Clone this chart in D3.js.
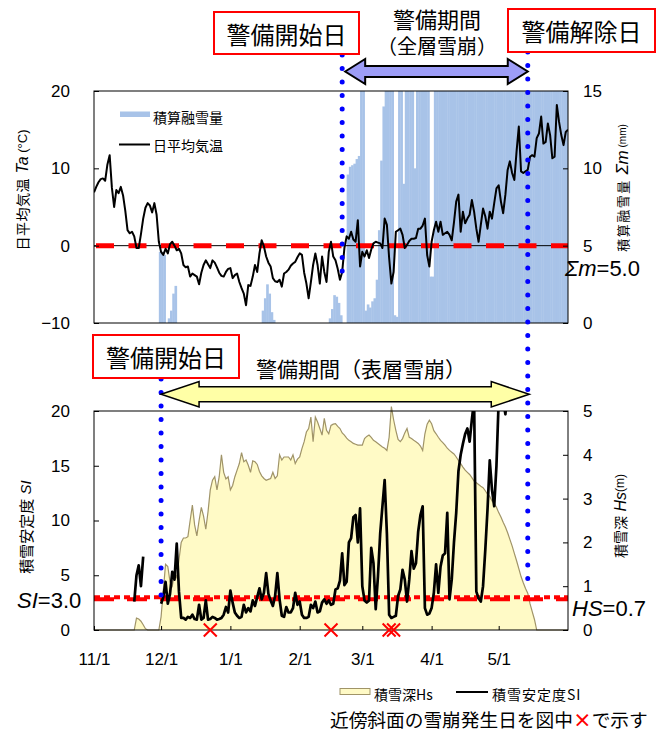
<!DOCTYPE html>
<html><head><meta charset="utf-8">
<script src="https://cdn.jsdelivr.net/npm/d3@7"></script>
<style>
body{margin:0;background:#fff;}
svg text{font-family:"Liberation Sans",Arial,sans-serif;fill:#000;}
svg .jp{font-family:"Noto Sans CJK JP","Noto Sans",sans-serif;}
</style></head><body>
<svg id="chart" width="659" height="731"></svg>
<script>
// ---- season & labels ----
const seasonStart = "2010-11-01";
const seasonEnd = "2011-06-01";
const monthStarts = ["2010-11-01","2010-12-01","2011-01-01","2011-02-01","2011-03-01","2011-04-01","2011-05-01"];
const monthLabels = ["11/1","12/1","1/1","2/1","3/1","4/1","5/1"];

// daily mean air temperature Ta (°C), one value per day from 11/1
const airTemp = [6.9,7.6,8.2,8.6,8.7,8.4,10.5,11.7,7.5,5.0,
 7.2,6.8,7.6,6.5,4.5,2.0,1.6,1.8,1.2,-0.3,
 -0.3,1.5,3.5,4.9,5.5,5.2,4.3,5.5,4.0,0.5,
 -0.8,-1.2,-0.4,-1.0,0.2,0.5,0.0,-0.6,-0.4,-1.0,
 -2.5,-2.8,-2.7,-4.0,-3.6,-3.8,-4.0,-5.0,-3.5,-2.5,
 -1.9,-2.4,-2.9,-1.9,-2.2,-2.8,-3.5,-3.9,-4.0,-3.4,
 -3.0,-2.9,-4.2,-3.8,-3.6,-4.7,-5.5,-6.2,-7.7,-5.1,
 -5.2,-4.0,-2.5,-3.4,-1.0,0.7,-0.1,-1.4,-2.2,-2.7,
 -4.2,-4.6,-4.7,-4.4,-5.3,-3.6,-3.4,-3.1,-2.6,-2.3,
 -2.1,-1.5,-1.0,-1.2,-3.5,-4.9,-6.8,-4.7,-2.5,-1.0,
 -2.5,-4.9,-1.4,-3.4,-4.7,-0.8,0.5,-1.4,-1.9,-3.0,
 -4.4,-3.4,-0.3,1.2,0.9,1.8,0.8,0.5,3.3,-2.7,
 -0.8,-1.4,-0.6,-1.6,-0.5,0.3,0.5,0.4,0.3,-0.3,
 3.5,2.7,-1.6,-4.9,-3.4,1.8,2.0,2.2,1.4,-0.3,
 0.1,0.6,0.9,0.9,1.0,2.2,2.2,2.6,3.5,-1.2,
 -2.7,0.5,2.0,3.1,1.8,3.1,1.4,1.6,1.8,1.4,
 0.7,3.0,5.7,6.6,1.8,4.4,2.9,3.5,4.0,5.9,
 4.4,2.2,0.5,2.7,4.8,3.8,2.2,4.4,3.5,5.5,
 7.4,7.8,5.7,4.2,6.6,9.8,10.9,9.4,8.5,12.2,
 15.4,9.6,9.4,9.6,9.8,11.5,11.7,11.5,13.9,14.5,
 16.7,13.2,13.4,15.8,14.3,11.3,11.5,18.2,16.0,14.3,
 13.0,14.7,15.0];

// cumulative snowmelt Σm (mm), one value per day from 11/1 (axis tops out at 15)
const meltSum = [0,0,0,0,0,0,0,0,0,0,
 0,0,0,0,0,0,0,0,0,0,
 0,0,0,0,0,0,0,0,0,4.6,
 4.6,4.4,0,0.3,0.8,1.9,2.4,0,0,0,
 0,0,0,0,0,0,0,0,0,0,
 0,0,0,0,0,0,0,0,0,0,
 0,0,0,0,0,0,0,0,0,0,
 0,0,0,0,0,0.8,1.6,2.5,1.9,0.7,
 0.2,0,0,0,0,0,0,0,0,0,
 0,0,0,0,0,0,0,0,0,0,
 0,0,0,0,0,0.3,0.9,1.8,1.7,1.3,
 0.5,0,0,9.6,10.1,10.2,10.3,10.6,10.8,15,
 15,0.8,1.2,1.0,1.4,1.6,2.8,6.0,10.5,14.0,
 15,15,15,15,0.5,0.4,15,15,9.0,15,
 15,15,15,10.0,15,15,15,15,15,15,
 3.0,3.0,15,15,15,15,15,15,15,15,
 15,15,15,15,15,15,15,15,15,15,
 15,15,15,15,15,15,15,15,15,15,
 15,15,15,15,15,15,15,15,15,15,
 15,15,15,15,15,15,15,15,15,15,
 15,15,15,15,15,15,15,15,15,15,
 15,15,15];

// snow depth Hs (m), one value per day from 11/1
const snowDepth = [0,0,0,0,0,0,0,0,0,0,
 0,0,0,0,0,0,0,0,0,0.27,
 0.25,0.2,0.12,0.03,0,0,0,0,0,0,
 0.3,0.9,1.5,1.45,1.1,1.0,1.3,1.2,1.6,2.0,
 2.1,2.1,2.13,2.5,2.85,2.4,2.15,2.5,2.8,2.6,
 2.3,2.7,3.2,3.42,3.5,3.2,3.5,4.0,3.6,3.45,
 3.5,3.2,3.3,3.5,3.65,3.8,4.05,3.84,3.88,3.76,
 3.6,3.86,3.84,3.78,3.62,3.52,3.46,3.42,3.44,3.46,
 3.6,3.46,3.52,4.0,3.88,3.95,3.95,3.95,3.88,4.0,
 3.8,3.9,3.95,4.14,4.3,4.52,4.6,4.86,4.3,4.86,
 4.75,4.6,4.45,4.83,4.56,4.48,4.67,4.7,4.71,4.65,
 4.6,4.5,4.45,4.38,4.33,4.3,4.26,4.24,4.22,4.22,
 4.22,4.37,4.42,4.45,4.4,4.33,4.3,4.26,4.22,4.18,
 4.15,4.1,4.4,5.1,4.8,4.56,4.35,4.3,4.37,4.5,
 4.6,4.4,4.37,4.33,4.3,4.26,4.2,4.1,4.48,4.7,
 4.79,4.71,4.55,4.48,4.4,4.33,4.28,4.22,4.15,4.1,
 4.06,4.02,3.95,3.87,3.8,3.72,3.65,3.6,3.55,3.48,
 3.4,3.36,3.32,3.28,3.25,3.18,3.1,3.05,2.95,2.89,
 2.8,2.68,2.58,2.46,2.35,2.22,2.07,1.92,1.75,1.58,
 1.4,1.22,1.08,0.95,0.84,0.6,0.42,0.24,0,0,
 0,0,0,0,0,0,0,0,0,0,
 0,0,0];

// snow stability index SI, one value per day from 11/1 (null = not computed)
const stability = [null,null,null,null,null,null,null,null,null,null,
 null,null,null,null,null,null,null,null,2.6,5.0,
 5.9,4.0,6.7,null,null,null,null,null,null,null,
 2.4,3.0,4.4,2.4,3.3,5.3,4.6,7.9,3.5,1.1,
 1.1,0.95,1.2,1.1,1.4,1.0,0.95,2.3,0.95,1.1,
 2.7,0.95,1.0,1.2,1.1,0.95,1.0,1.1,1.4,2.1,
 1.6,3.6,2.5,1.6,1.3,1.1,1.2,2.3,1.6,2.0,
 1.7,2.7,2.2,3.0,3.8,2.8,3.4,5.2,3.3,2.7,
 2.2,3.1,5.2,2.8,1.3,1.2,2.1,1.6,1.6,2.0,
 3.4,2.3,2.6,1.4,1.1,1.1,1.2,2.3,2.0,2.6,
 1.6,1.7,2.5,2.8,2.4,2.7,2.3,2.4,3.7,3.8,
 4.5,7.0,4.1,4.4,8.0,8.4,10.3,10.5,8.0,11.1,
 4.0,2.7,2.5,2.7,7.5,6.1,1.9,4.9,8.8,11.3,
 13.7,8.8,1.4,1.1,1.2,1.3,3.1,3.7,5.5,4.6,
 2.6,4.6,7.2,5.6,6.1,9.0,10.5,11.3,2.0,1.4,
 1.5,2.0,3.4,6.0,3.4,5.8,6.8,7.0,10.7,2.8,
 4.6,8.0,10.7,14.5,16.0,17.0,17.9,18.4,17.2,19.2,
 21.0,3.5,2.9,2.6,4.0,7.3,11.0,15.5,12.8,11.3,
 15.0,21.0,24.0,21.0,19.7,22.0,null,null,null,null,
 null,null,null,null,null,null,null,null,null,null,
 null,null,null,null,null,null,null,null,null,null,
 null,null,null];

// avalanche days on nearby slopes
const avalancheDays = ["2010-12-23","2011-02-15","2011-03-13","2011-03-15"];
// alert periods
const alertFullDepth = ["2011-02-20","2011-05-14"];
const alertSurface = ["2010-12-01","2011-05-14"];
// thresholds
const meltThreshold = 5.0, siThreshold = 3.0, hsThreshold = 0.7, tempZero = 0;

const taTicks = [-10,0,10,20], mTicks = [0,5,10,15];
const siTicks = [0,5,10,15,20], hsTicks = [0,1,2,3,4,5];

// ---- scales ----
const parse = d3.timeParse("%Y-%m-%d");
const day0 = parse(seasonStart);
const dayAt = i => d3.timeDay.offset(day0, i);
const x = d3.scaleTime().domain([day0, parse(seasonEnd)]).range([94, 568]);
const L = 94, R = 568;
const top1 = 91, bot1 = 323, top2 = 411, bot2 = 630;
const yTa = d3.scaleLinear().domain([-10,20]).range([bot1, top1]);
const yM = d3.scaleLinear().domain([0,15]).range([bot1, top1]);
const ySI = d3.scaleLinear().domain([0,20]).range([bot2, top2]);
const yHS = d3.scaleLinear().domain([0,5]).range([bot2, top2]);

const svg = d3.select("#chart");
const defs = svg.append("defs");
defs.append("clipPath").attr("id","clipTop").append("rect").attr("x",L).attr("y",top1).attr("width",R-L).attr("height",bot1-top1);
defs.append("clipPath").attr("id","clipBot").append("rect").attr("x",L).attr("y",top2).attr("width",R-L).attr("height",bot2-top2);

const JP = "jp";
const intFmt = d3.format("d");

// ================= upper panel =================
const up = svg.append("g");
up.append("rect").attr("x",L).attr("y",top1).attr("width",R-L).attr("height",bot1-top1).attr("fill","#fff");

// cumulative snowmelt columns
const dayW = x(dayAt(1)) - x(dayAt(0));
up.append("g").attr("clip-path","url(#clipTop)").selectAll("rect")
  .data(meltSum.map((v,i)=>({i,v})).filter(d=>d.v>0))
  .join("rect")
  .attr("x", d=>x(dayAt(d.i)))
  .attr("width", dayW+0.4)
  .attr("y", d=>yM(d.v))
  .attr("height", d=>yM(0)-yM(d.v))
  .attr("fill","#a8c3e8");

// 0 °C line
up.append("line").attr("x1",L).attr("x2",R).attr("y1",yTa(tempZero)).attr("y2",yTa(tempZero)).attr("stroke","#000").attr("stroke-width",1);
// Σm threshold
up.append("line").attr("x1",L+2).attr("x2",R).attr("y1",yM(meltThreshold)).attr("y2",yM(meltThreshold))
  .attr("stroke","#ff0000").attr("stroke-width",5).attr("stroke-dasharray","18 14.5");

// temperature line
up.append("path").datum(airTemp)
  .attr("d", d3.line().x((v,i)=>x(dayAt(i))).y(v=>yTa(v)))
  .attr("fill","none").attr("stroke","#000").attr("stroke-width",2).attr("stroke-linejoin","round")
  .attr("clip-path","url(#clipTop)");

up.append("rect").attr("x",L).attr("y",top1).attr("width",R-L).attr("height",bot1-top1).attr("fill","none").attr("stroke","#000").attr("stroke-width",1);

// axes
const axL1 = up.append("g").attr("transform",`translate(${L},0)`).call(d3.axisLeft(yTa).tickValues(taTicks).tickSize(-5).tickPadding(24).tickFormat(d=>d<0?"\u2212"+Math.abs(d):intFmt(d)));
const axR1 = up.append("g").attr("transform",`translate(${R},0)`).call(d3.axisRight(yM).tickValues(mTicks).tickSize(-5).tickPadding(15).tickFormat(intFmt));
[axL1,axR1].forEach(a=>{a.select(".domain").remove();a.selectAll("text").attr("font-size",17).attr("font-family","Liberation Sans");a.selectAll("line").attr("stroke","#000");});

// legend (upper)
up.append("rect").attr("x",120).attr("y",111.5).attr("width",30).attr("height",5.5).attr("fill","#a8c3e8");
up.append("text").attr("class",JP).attr("x",153).attr("y",116.5).attr("dominant-baseline","central").attr("font-size",14).text("積算融雪量");
up.append("line").attr("x1",119).attr("x2",150).attr("y1",144.5).attr("y2",144.5).attr("stroke","#000").attr("stroke-width",2);
up.append("text").attr("class",JP).attr("x",153).attr("y",144.5).attr("dominant-baseline","central").attr("font-size",14).text("日平均気温");

// ================= lower panel =================
const lo = svg.append("g");
lo.append("rect").attr("x",L).attr("y",top2).attr("width",R-L).attr("height",bot2-top2).attr("fill","#fff");

// snow depth area
const hsPts = snowDepth.map((v,i)=>({i,v}));
lo.append("path").datum(hsPts)
  .attr("d", d3.area().x(d=>x(dayAt(d.i))).y0(yHS(0)).y1(d=>yHS(d.v)))
  .attr("fill","#fffac6");
lo.append("path").datum(hsPts)
  .attr("d", d3.line().x(d=>x(dayAt(d.i))).y(d=>yHS(d.v)))
  .attr("fill","none").attr("stroke","#a09468").attr("stroke-width",1.2);

// thresholds
lo.append("line").attr("x1",L).attr("x2",R).attr("y1",yHS(hsThreshold)).attr("y2",yHS(hsThreshold))
  .attr("stroke","#ff0000").attr("stroke-width",4).attr("stroke-dasharray","20 13");
lo.append("line").attr("x1",L).attr("x2",R).attr("y1",ySI(siThreshold)).attr("y2",ySI(siThreshold))
  .attr("stroke","#ff0000").attr("stroke-width",4).attr("stroke-dasharray","6 4");

// stability line
lo.append("path").datum(stability)
  .attr("d", d3.line().defined(v=>v!=null).x((v,i)=>x(dayAt(i))).y(v=>ySI(v)))
  .attr("fill","none").attr("stroke","#000").attr("stroke-width",2.7).attr("stroke-linejoin","round")
  .attr("clip-path","url(#clipBot)");

lo.append("rect").attr("x",L).attr("y",top2).attr("width",R-L).attr("height",bot2-top2).attr("fill","none").attr("stroke","#000").attr("stroke-width",1);

const axL2 = lo.append("g").attr("transform",`translate(${L},0)`).call(d3.axisLeft(ySI).tickValues(siTicks).tickSize(-5).tickPadding(24).tickFormat(intFmt));
const axR2 = lo.append("g").attr("transform",`translate(${R},0)`).call(d3.axisRight(yHS).tickValues(hsTicks).tickSize(-5).tickPadding(15).tickFormat(intFmt));
const axB2 = lo.append("g").attr("transform",`translate(0,${bot2})`).call(
  d3.axisBottom(x).tickValues(monthStarts.map(parse)).tickSize(-4).tickPadding(23).tickFormat((d,i)=>monthLabels[i]));
[axL2,axR2,axB2].forEach(a=>{a.select(".domain").remove();a.selectAll("text").attr("font-size",17).attr("font-family","Liberation Sans");a.selectAll("line").attr("stroke","#000");});

// avalanche markers
lo.append("g").selectAll("path").data(avalancheDays).join("path")
  .attr("transform", d=>`translate(${x(parse(d))},${ySI(0)})`)
  .attr("d", d3.symbol().type(d3.symbolX).size(112)())
  .attr("fill","none").attr("stroke","#ff0000").attr("stroke-width",2);

// ================= alert-period annotations =================
const ann = svg.append("g");
function dotted(xp, y1, y2){
  ann.append("line").attr("x1",xp).attr("x2",xp).attr("y1",y1).attr("y2",y2)
    .attr("stroke","#0000ff").attr("stroke-width",5).attr("stroke-linecap","round").attr("stroke-dasharray","0 13.5");
}
const xFullStart = x(parse(alertFullDepth[0])), xEnd = x(parse(alertFullDepth[1]));
const xSurfStart = x(parse(alertSurface[0]));
dotted(xFullStart, 55, 274);
dotted(xEnd, 52, 583);
dotted(xSurfStart, 379, 598);

function dblArrow(x1, x2, cy, bodyH, headH, headL, fill, sw){
  const p = [[x1,cy],[x1+headL,cy-headH],[x1+headL,cy-bodyH],[x2-headL,cy-bodyH],[x2-headL,cy-headH],[x2,cy],
             [x2-headL,cy+headH],[x2-headL,cy+bodyH],[x1+headL,cy+bodyH],[x1+headL,cy+headH]];
  ann.append("path").attr("d", d3.line()(p)+"Z").attr("fill",fill).attr("stroke","#000").attr("stroke-width",sw).attr("stroke-linejoin","miter");
}
dblArrow(xFullStart+3, xEnd, 71.5, 5.5, 12.5, 20, "#9d9df7", 2);
dblArrow(xSurfStart, xEnd+1.5, 394.3, 7.5, 12.7, 38, "#ffffa6", 1.5);

function box(x0, y0, w, h, label){
  ann.append("rect").attr("x",x0).attr("y",y0).attr("width",w).attr("height",h).attr("fill","#fff").attr("stroke","#ff0000").attr("stroke-width",2);
  ann.append("text").attr("class",JP).attr("x",x0+w/2).attr("y",y0+h/2).attr("text-anchor","middle").attr("dominant-baseline","central").attr("font-size",24).text(label);
}
box(214, 12, 145, 42, "警備開始日");
box(508, 9, 147, 43, "警備解除日");
box(93, 335, 146, 43, "警備開始日");

// two-line caption of the upper alert arrow
const cap = ann.append("text").attr("class",JP).attr("text-anchor","middle");
cap.append("tspan").attr("x",437).attr("y",28).attr("font-size",22).text("警備期間");
cap.append("tspan").attr("x",437).attr("y",54).attr("font-size",20).text("（全層雪崩）");
ann.append("text").attr("class",JP).attr("x",361).attr("y",368).attr("text-anchor","middle").attr("dominant-baseline","central").attr("font-size",21).text("警備期間（表層雪崩）");

// threshold labels
const tm = ann.append("text").attr("x",565).attr("y",268).attr("dominant-baseline","central").attr("font-size",22);
tm.append("tspan").attr("font-style","italic").text("Σm");
tm.append("tspan").text("="+meltThreshold.toFixed(1));
const ts = ann.append("text").attr("x",17).attr("y",600).attr("dominant-baseline","central").attr("font-size",22);
ts.append("tspan").attr("font-style","italic").text("SI");
ts.append("tspan").text("="+siThreshold.toFixed(1));
const th = ann.append("text").attr("x",572).attr("y",608).attr("dominant-baseline","central").attr("font-size",22);
th.append("tspan").attr("font-style","italic").text("HS");
th.append("tspan").text("="+hsThreshold.toFixed(1));

// axis titles (rotated)
function vTitle(cx, cy, parts){
  const t = svg.append("text").attr("transform",`translate(${cx},${cy}) rotate(-90)`).attr("text-anchor","middle").attr("dominant-baseline","central");
  parts.forEach(p=>{
    const s = t.append("tspan").text(p.t).attr("font-size",p.s);
    if(p.jp) s.attr("class",JP);
    if(p.it) s.attr("font-style","italic");
    if(p.ls) s.attr("letter-spacing",p.ls);
  });
}
vTitle(22, 190, [{t:"日平均気温",s:14,jp:1,ls:0.5},{t:" Ta",s:16,it:1},{t:" (°C)",s:13}]);
vTitle(622, 188, [{t:"積算融雪量",s:13,jp:1,ls:1.5},{t:" Σm",s:17,it:1},{t:" (mm)",s:10}]);
vTitle(25, 527, [{t:"積雪安定度",s:15,jp:1},{t:"  SI",s:15,it:1}]);
vTitle(620, 516, [{t:"積雪深",s:14,jp:1},{t:" Hs",s:16,it:1},{t:"(m)",s:12}]);

// lower legend
svg.append("rect").attr("x",340).attr("y",688.5).attr("width",30).attr("height",6).attr("fill","#fffac6").attr("stroke","#a09468").attr("stroke-width",1);
svg.append("text").attr("class",JP).attr("x",374).attr("y",694).attr("dominant-baseline","central").attr("font-size",14).text("積雪深Hs");
svg.append("line").attr("x1",456).attr("x2",488).attr("y1",692).attr("y2",692).attr("stroke","#000").attr("stroke-width",2);
svg.append("text").attr("class",JP).attr("x",492).attr("y",694).attr("dominant-baseline","central").attr("font-size",14).attr("letter-spacing",1).text("積雪安定度SI");

// note
const note = svg.append("text").attr("class",JP).attr("x",330).attr("y",718).attr("dominant-baseline","central").attr("font-size",18.7);
note.append("tspan").text("近傍斜面の雪崩発生日を図中");
note.append("tspan").attr("fill","#ff0000").attr("font-weight","bold").text("×");
note.append("tspan").text("で示す");
</script>
</body></html>
